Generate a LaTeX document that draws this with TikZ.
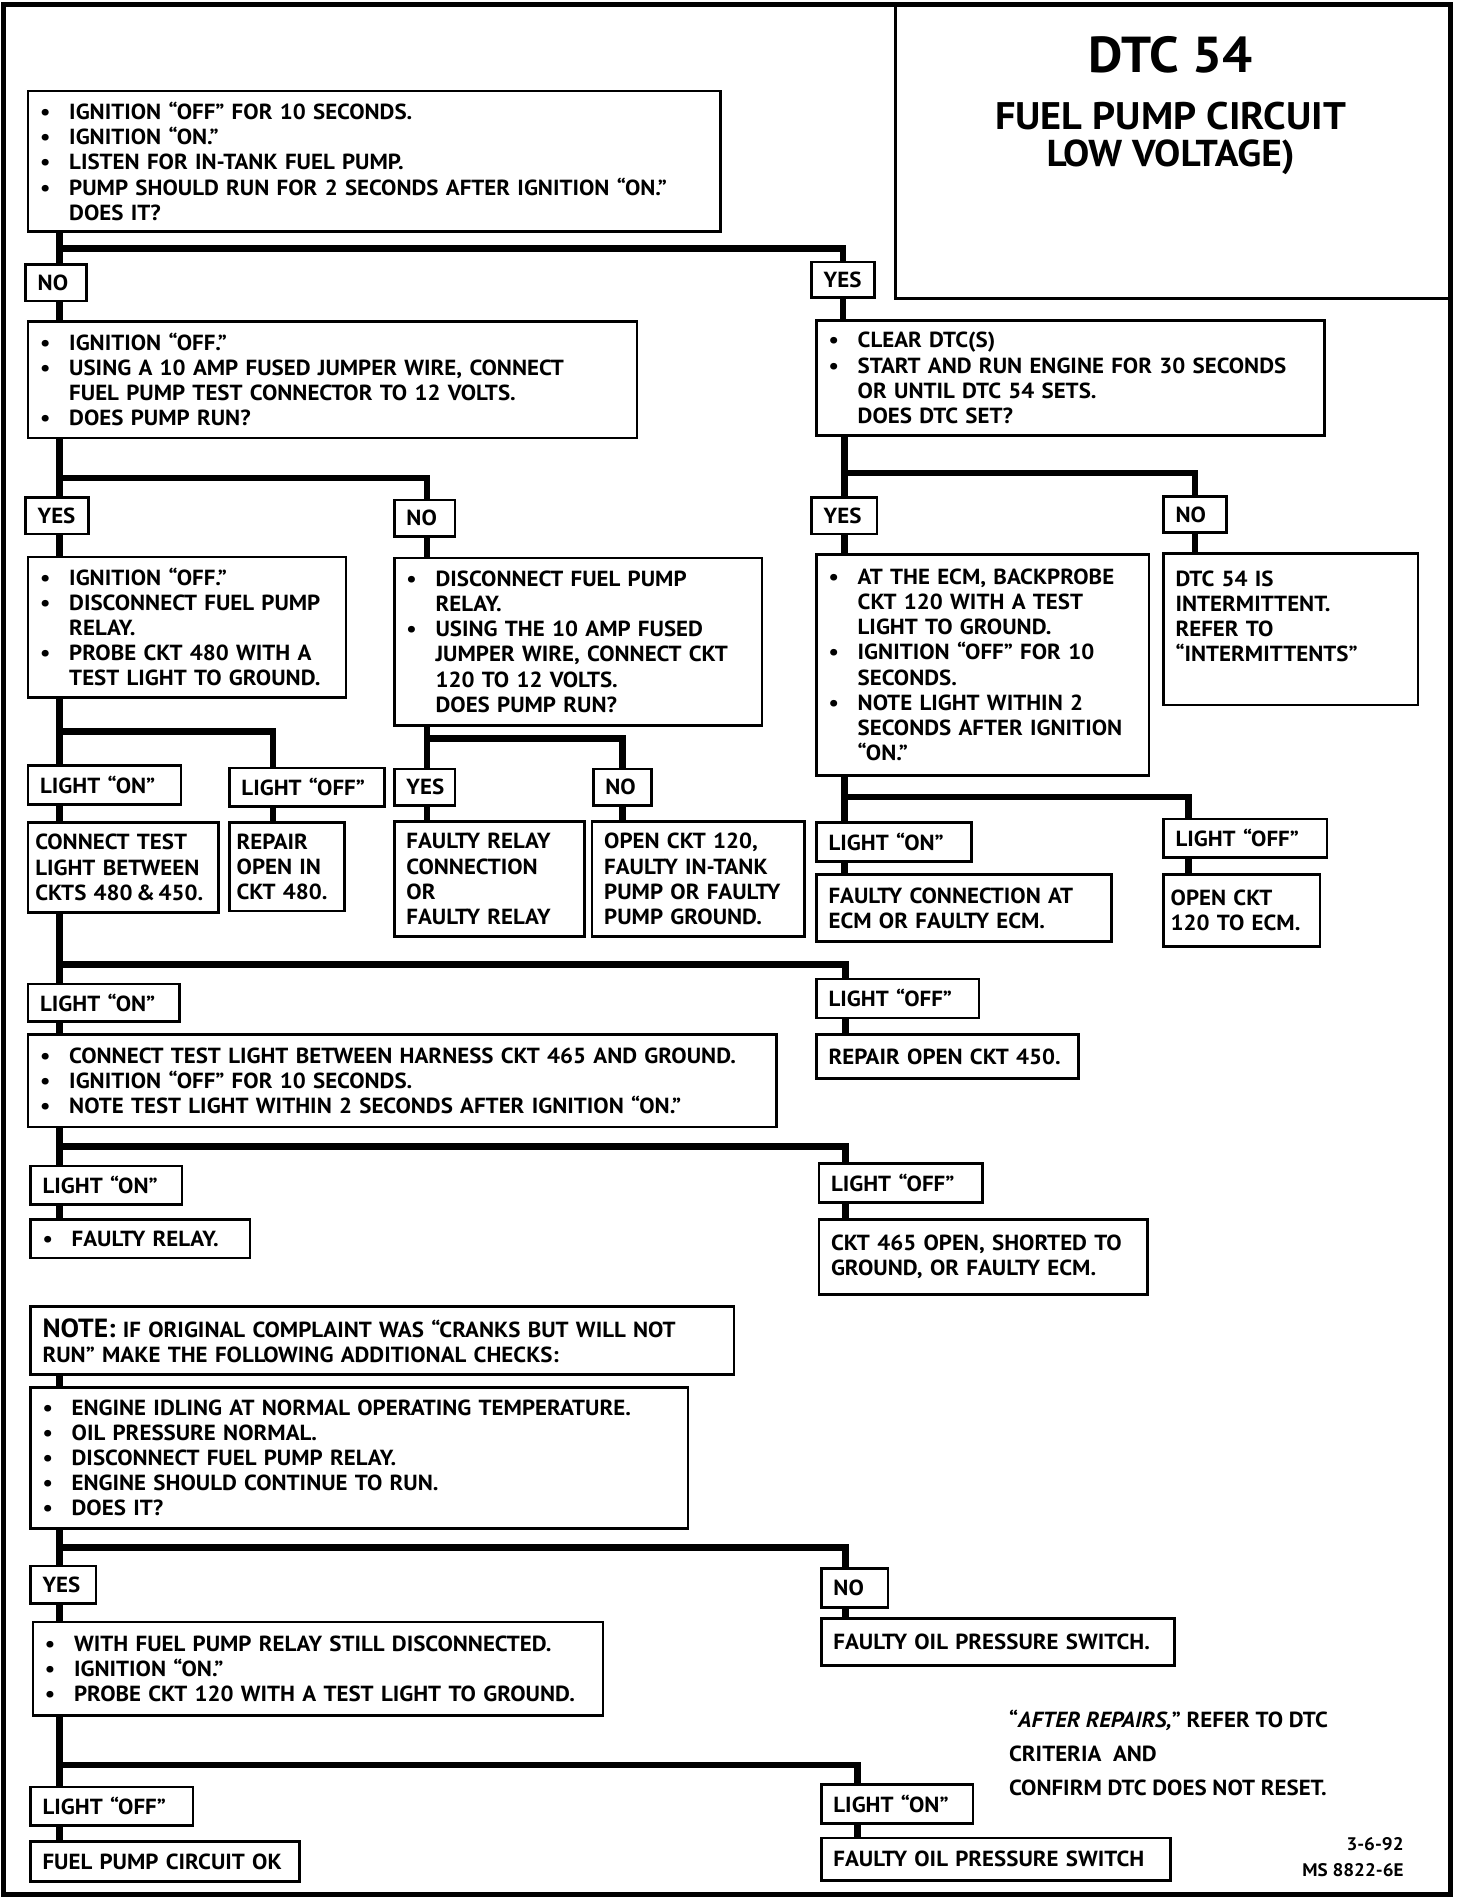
\documentclass[tikz,border=0pt]{standalone}
\usepackage{fontspec}
\setmainfont{PT Sans}[FakeStretch=1.05]
\usetikzlibrary{positioning, calc}

\newdimen\px \px=0.6pt
\newcommand\bu{\makebox[24\px][l]{\textbullet}}
\newcommand\ind{\hspace*{24\px}}
\def\szpad{20}

\tikzset{sz/.code 2 args={%
  \pgfmathsetlengthmacro\bw{#1*\px}%
  \pgfmathsetlengthmacro\tw{(#1-\szpad)*\px}%
  \pgfmathsetlengthmacro\bh{#2*\px}%
  \edef\sznext{\noexpand\tikzset{minimum width=\bw,
    text width=\tw, minimum height=\bh}}\sznext}}

\begin{document}
\begin{tikzpicture}[
    x=0.6pt, y=-0.6pt,
    every node/.style={font=\bfseries\fontsize{10.8}{12.4}\selectfont},
    stepbox/.style={
        rectangle, draw=black, line width=1.3pt, fill=white,
        anchor=north west, align=left, inner xsep=10*\px, inner ysep=0pt
    },
    tight/.style={inner xsep=6*\px, /utils/exec={\def\szpad{12}}},
    tag/.style={stepbox},
    link/.style={line width=3.3pt},
    ttl/.style={font=\bfseries\fontsize{#1}{#1}\selectfont}
]
\useasboundingbox (0,0) rectangle (1214,1568);
\draw[line width=2.4pt] (3,4) rectangle (1196,1562);
\draw[line width=1.3pt] (738,4) |- (1196,246);
\node[ttl=25] (dtc) at (965,45) {DTC 54};
\node[ttl=19] (fpc) at (965,96) {FUEL PUMP CIRCUIT};
\node[ttl=18.5] (lv) at (965,130) {LOW VOLTAGE)};

\coordinate (sp) at (49,0);
\coordinate (msp) at (352,0);
\coordinate (rsp) at (696,0);

% first check
\node[stepbox, sz={571}{116}] (q1) at (22,74) {
    \bu IGNITION ``OFF'' FOR 10 SECONDS.\\
    \bu IGNITION ``ON.''\\
    \bu LISTEN FOR IN-TANK FUEL PUMP.\\
    \bu PUMP SHOULD RUN FOR 2 SECONDS AFTER IGNITION ``ON.''\\
    \ind DOES IT?};
\node[tag, sz={50}{30}] (no1) at (20,217) {NO};
\node[tag, sz={52}{29}] (yes1) at (668,215) {YES};
\node[stepbox, sz={502}{96}] (q2) at (22,264) {
    \bu IGNITION ``OFF.''\\
    \bu USING A 10 AMP FUSED JUMPER WIRE, CONNECT\\
    \ind FUEL PUMP TEST CONNECTOR TO 12 VOLTS.\\
    \bu DOES PUMP RUN?};
\node[stepbox, sz={419}{95}] (q3) at (672,263) {
    \bu CLEAR DTC(S)\\
    \bu START AND RUN ENGINE FOR 30~SECONDS\\
    \ind OR UNTIL DTC 54 SETS.\\
    \ind DOES DTC SET?};

% pump runs / does not run
\node[tag, sz={52}{30}] (yes2) at (20,409) {YES};
\node[tag, sz={50}{30}] (no2) at (324,411) {NO};
\node[stepbox, sz={262}{116}] (q4) at (22,458) {
    \bu IGNITION ``OFF.''\\
    \bu DISCONNECT FUEL~PUMP\\
    \ind RELAY.\\
    \bu PROBE CKT 480 WITH~A\\
    \ind TEST LIGHT TO~GROUND.};
\node[stepbox, sz={303}{138}] (q5) at (324,459) {
    \bu DISCONNECT FUEL PUMP\\
    \ind RELAY.\\
    \bu USING THE 10 AMP FUSED\\
    \ind JUMPER WIRE, CONNECT~CKT\\
    \ind 120 TO 12 VOLTS.\\
    \ind DOES PUMP RUN?};

% dtc sets / does not set
\node[tag, sz={54}{30}] (yes3) at (668,409) {YES};
\node[tag, sz={52}{30}] (no3) at (958,408) {NO};
\node[stepbox, sz={274}{182}] (q6) at (672,456) {
    \bu AT THE ECM, BACKPROBE\\
    \ind CKT 120 WITH A TEST\\
    \ind LIGHT TO GROUND.\\
    \bu IGNITION ``OFF'' FOR 10\\
    \ind SECONDS.\\
    \bu NOTE LIGHT WITHIN 2\\
    \ind SECONDS AFTER~IGNITION\\
    \ind ``ON.''};
\node[stepbox, sz={210}{125}] (r1) at (958,455) {
    DTC 54 IS\\ INTERMITTENT.\\ REFER TO\\ ``INTERMITTENTS''\\ \mbox{}};

\node[tag, sz={126}{32}] (on1) at (22,630) {LIGHT ``ON''};
\node[tag, sz={128}{32}] (off1) at (188,632) {LIGHT ``OFF''};
\node[stepbox, tight, sz={157}{74}] (r2) at (22,677) {
    CONNECT TEST\\ LIGHT~BETWEEN\\ CKTS~480\,\&\,450.};
\node[stepbox, tight, sz={95}{73}] (r3) at (188,677) {
    REPAIR\\ OPEN IN\\ CKT~480.};
\node[tag, sz={50}{30}] (yes4) at (324,633) {YES};
\node[tag, sz={48}{30}] (no4) at (488,633) {NO};
\node[stepbox, sz={157}{95}] (r4) at (324,676) {
    FAULTY RELAY\\ CONNECTION\\ OR\\ FAULTY RELAY};
\node[stepbox, sz={175}{95}] (r5) at (487,676) {
    OPEN CKT 120,\\ FAULTY IN-TANK\\ PUMP OR~FAULTY\\ PUMP GROUND.};
\node[tag, sz={128}{32}] (on2) at (672,677) {LIGHT ``ON''};
\node[tag, sz={135}{32}] (off2) at (958,674) {LIGHT ``OFF''};
\node[stepbox, sz={243}{55}] (r6) at (672,720) {
    FAULTY CONNECTION AT\\ ECM OR FAULTY ECM.};
\node[stepbox, tight, sz={129}{59}] (r7) at (958,720) {
    OPEN CKT\\ 120~TO~ECM.};

% test light at ckt 465
\node[tag, sz={125}{31}] (on3) at (22,810) {LIGHT ``ON''};
\node[tag, sz={134}{32}] (off3) at (672,806) {LIGHT ``OFF''};
\node[stepbox, sz={617}{76}] (q7) at (22,852) {
    \bu CONNECT TEST LIGHT BETWEEN HARNESS CKT 465 AND~GROUND.\\
    \bu IGNITION ``OFF'' FOR 10 SECONDS.\\
    \bu NOTE TEST LIGHT WITHIN 2 SECONDS AFTER IGNITION ``ON.''};
\node[stepbox, sz={216}{36}] (r8) at (672,852) {REPAIR OPEN CKT 450.};
\node[tag, sz={125}{32}] (on4) at (24,960) {LIGHT ``ON''};
\node[tag, sz={135}{32}] (off4) at (674,958) {LIGHT ``OFF''};
\node[stepbox, sz={181}{32}] (r9) at (24,1004) {\bu FAULTY RELAY.};
\node[stepbox, sz={271}{62}] (r10) at (674,1004) {
    CKT 465 OPEN, SHORTED~TO\\ GROUND, OR FAULTY ECM.};

% cranks but will not run
\node[stepbox, sz={580}{56}] (note) at (24,1076) {
    {\fontsize{13}{12.4}\selectfont NOTE:} IF ORIGINAL COMPLAINT WAS ``CRANKS BUT WILL~NOT\\
    RUN'' MAKE THE FOLLOWING ADDITIONAL CHECKS:};
\node[stepbox, sz={542}{116}] (q8) at (24,1143) {
    \bu ENGINE IDLING AT NORMAL OPERATING TEMPERATURE.\\
    \bu OIL PRESSURE NORMAL.\\
    \bu DISCONNECT FUEL PUMP RELAY.\\
    \bu ENGINE SHOULD CONTINUE TO RUN.\\
    \bu DOES IT?};
\node[tag, sz={54}{31}] (yes5) at (24,1290) {YES};
\node[tag, sz={55}{32}] (no5) at (676,1292) {NO};
\node[stepbox, sz={470}{77}] (q9) at (26,1336) {
    \bu WITH FUEL PUMP RELAY STILL DISCONNECTED.\\
    \bu IGNITION ``ON.''\\
    \bu PROBE CKT 120 WITH A TEST LIGHT TO~GROUND.};
\node[stepbox, sz={291}{39}] (r11) at (676,1333) {FAULTY OIL PRESSURE SWITCH.};
\node[tag, sz={134}{32}] (off5) at (24,1472) {LIGHT ``OFF''};
\node[tag, sz={125}{32}] (on5) at (676,1470) {LIGHT ``ON''};
\node[stepbox, sz={222}{33}] (r12) at (24,1517) {FUEL PUMP CIRCUIT OK};
\node[stepbox, sz={288}{35}] (r13) at (676,1514) {FAULTY OIL PRESSURE SWITCH};

\node[anchor=north west, align=left,
      font=\bfseries\fontsize{10.8}{16.8}\selectfont] (after) at (826,1404)
    {``\textit{AFTER REPAIRS,}'' REFER TO DTC\\ CRITERIA\ \ AND\\
     CONFIRM DTC DOES NOT RESET.};
\node[anchor=north east, align=right,
      font=\bfseries\fontsize{9}{13}\selectfont] (ms) at (1163,1509)
    {3-6-92\\ MS 8822-6E};

% connectors
\coordinate (j1) at (49,205);
\coordinate (j2) at (49,394);
\coordinate (j3) at (696,390);
\coordinate (j4) at (49,603);
\coordinate (j5) at (352,609);
\coordinate (j6) at (696,657);
\coordinate (j7) at (49,795);
\coordinate (j8) at (49,945);
\coordinate (j9) at (49,1276);
\coordinate (j10) at (49,1455);

\draw[link] (q1.south -| sp) -- (no1.north -| sp);
\draw[link] (no1.south -| sp) -- (q2.north -| sp);
\draw[link] (j1) -| (yes1.north);
\draw[link] (yes1.south) -- (yes1.south |- q3.north);

\draw[link] (q2.south -| sp) -- (yes2.north -| sp);
\draw[link] (yes2.south -| sp) -- (q4.north -| sp);
\draw[link] (j2) -| (no2.north -| msp);
\draw[link] (no2.south -| msp) -- (q5.north -| msp);

\draw[link] (q3.south -| rsp) -- (yes3.north -| rsp);
\draw[link] (yes3.south -| rsp) -- (q6.north -| rsp);
\draw[link] (j3) -| (no3.north);
\draw[link] (no3.south) -- (no3.south |- r1.north);

\draw[link] (q4.south -| sp) -- (on1.north -| sp);
\draw[link] (on1.south -| sp) -- (r2.north -| sp);
\draw[link] (j4) -| ([xshift=37*\px]off1.north west);
\draw[link] ([xshift=37*\px]off1.south west) -- ([xshift=37*\px]r3.north west);

\draw[link] (q5.south -| msp) -- (yes4.north -| msp);
\draw[link] (yes4.south -| msp) -- (r4.north -| msp);
\draw[link] (j5) -| (no4.north);
\draw[link] (no4.south) -- (no4.south |- r5.north);

\draw[link] (q6.south -| rsp) -- (on2.north -| rsp);
\draw[link] (on2.south -| rsp) -- (r6.north -| rsp);
\draw[link] (j6) -| ([xshift=22*\px]off2.north west);
\draw[link] ([xshift=22*\px]off2.south west) -- ([xshift=22*\px]r7.north west);

\draw[link] (r2.south -| sp) -- (on3.north -| sp);
\draw[link] (on3.south -| sp) -- (q7.north -| sp);
\draw[link] (j7) -| ([xshift=25*\px]off3.north west);
\draw[link] ([xshift=25*\px]off3.south west) -- ([xshift=25*\px]r8.north west);

\draw[link] (q7.south -| sp) -- (on4.north -| sp);
\draw[link] (on4.south -| sp) -- (r9.north -| sp);
\draw[link] (j8) -| ([xshift=23*\px]off4.north west);
\draw[link] ([xshift=23*\px]off4.south west) -- ([xshift=23*\px]r10.north west);

\draw[link] (note.south -| sp) -- (q8.north -| sp);
\draw[link] (q8.south -| sp) -- (yes5.north -| sp);
\draw[link] (yes5.south -| sp) -- (q9.north -| sp);
\draw[link] (j9) -| ([xshift=21*\px]no5.north west);
\draw[link] ([xshift=21*\px]no5.south west) -- ([xshift=21*\px]r11.north west);

\draw[link] (q9.south -| sp) -- (off5.north -| sp);
\draw[link] (off5.south -| sp) -- (r12.north -| sp);
\draw[link] (j10) -| ([xshift=31*\px]on5.north west);
\draw[link] ([xshift=31*\px]on5.south west) -- ([xshift=31*\px]r13.north west);
\end{tikzpicture}
\end{document}
